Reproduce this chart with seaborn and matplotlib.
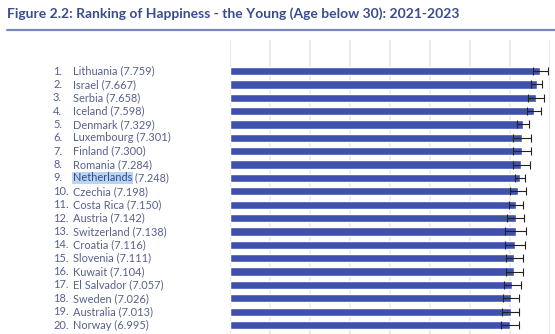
import matplotlib
matplotlib.use("Agg")
import matplotlib.pyplot as plt
import matplotlib.transforms as mtransforms
import seaborn as sns
import pandas as pd

countries = ["Lithuania", "Israel", "Serbia", "Iceland", "Denmark", "Luxembourg",
             "Finland", "Romania", "Netherlands", "Czechia", "Costa Rica", "Austria",
             "Switzerland", "Croatia", "Slovenia", "Kuwait", "El Salvador", "Sweden",
             "Australia", "Norway"]
scores = [7.759, 7.667, 7.658, 7.598, 7.329, 7.301, 7.300, 7.284, 7.248, 7.198,
          7.150, 7.142, 7.138, 7.116, 7.111, 7.104, 7.057, 7.026, 7.013, 6.995]
ci_half = [0.19, 0.14, 0.20, 0.17, 0.15, 0.22, 0.22, 0.22, 0.13, 0.19,
           0.18, 0.21, 0.26, 0.25, 0.21, 0.21, 0.21, 0.20, 0.21, 0.22]
title = "Figure 2.2: Ranking of Happiness - the Young (Age below 30): 2021-2023"

sns.set_theme(style="white")
plt.rcParams["font.family"] = ["Lato", "DejaVu Sans"]

W, H = 555, 334
fig = plt.figure(figsize=(W / 100, H / 100), dpi=100)
fig.patch.set_facecolor("white")

ax = fig.add_axes([230 / W, 0, 320 / W, 294 / H])
df = pd.DataFrame({"country": countries, "score": scores})
sns.barplot(data=df, x="score", y="country", orient="h", color="#3f51ad",
            saturation=1, width=0.62, ax=ax, errorbar=None)
ax.errorbar(scores, range(len(scores)), xerr=ci_half, fmt="none",
            ecolor="#222222", elinewidth=0.8, capsize=3, capthick=0.8, zorder=5)

ax.set_xlim(0, 8)
ax.set_ylim(19.67, -2.32)
ax.set_xticks(range(0, 9))
ax.grid(axis="x", color="#e6e6e6", linewidth=1.2)
ax.set_axisbelow(True)
ax.tick_params(left=False, bottom=False, labelleft=False, labelbottom=False)
for s in ax.spines.values():
    s.set_visible(False)
ax.set_xlabel("")
ax.set_ylabel("")

trans = mtransforms.blended_transform_factory(fig.transFigure, ax.transData)
txt_color = "#56618d"
fs = 7.9
for i, (c, v) in enumerate(zip(countries, scores)):
    ax.text(53 / W, i, f"{i + 1}.", transform=trans, ha="left", va="center",
            fontsize=fs, color=txt_color)
    if c == "Netherlands":
        t = ax.text(73 / W, i, c, transform=trans, ha="left", va="center",
                    fontsize=fs, color="#2d4a9a",
                    bbox=dict(boxstyle="square,pad=0.05", fc="#bcd4f0", ec="none"))
        ax.annotate(f" ({v:.3f})", xy=(1, 0.5), xycoords=t, ha="left",
                    va="center", fontsize=fs, color=txt_color)
    else:
        ax.text(73 / W, i, f"{c} ({v:.3f})", transform=trans, ha="left",
                va="center", fontsize=fs, color=txt_color)

fig.text(7 / W, 1 - 14 / H, title, ha="left", va="center", fontsize=10,
         fontweight="bold", color="#3b4c8c")
fig.add_artist(plt.Line2D([7 / W, 1], [1 - 29.5 / H, 1 - 29.5 / H],
                          color="#7b87bf", linewidth=1.6, transform=fig.transFigure))

fig.savefig("out.png", dpi=100, facecolor="white")
